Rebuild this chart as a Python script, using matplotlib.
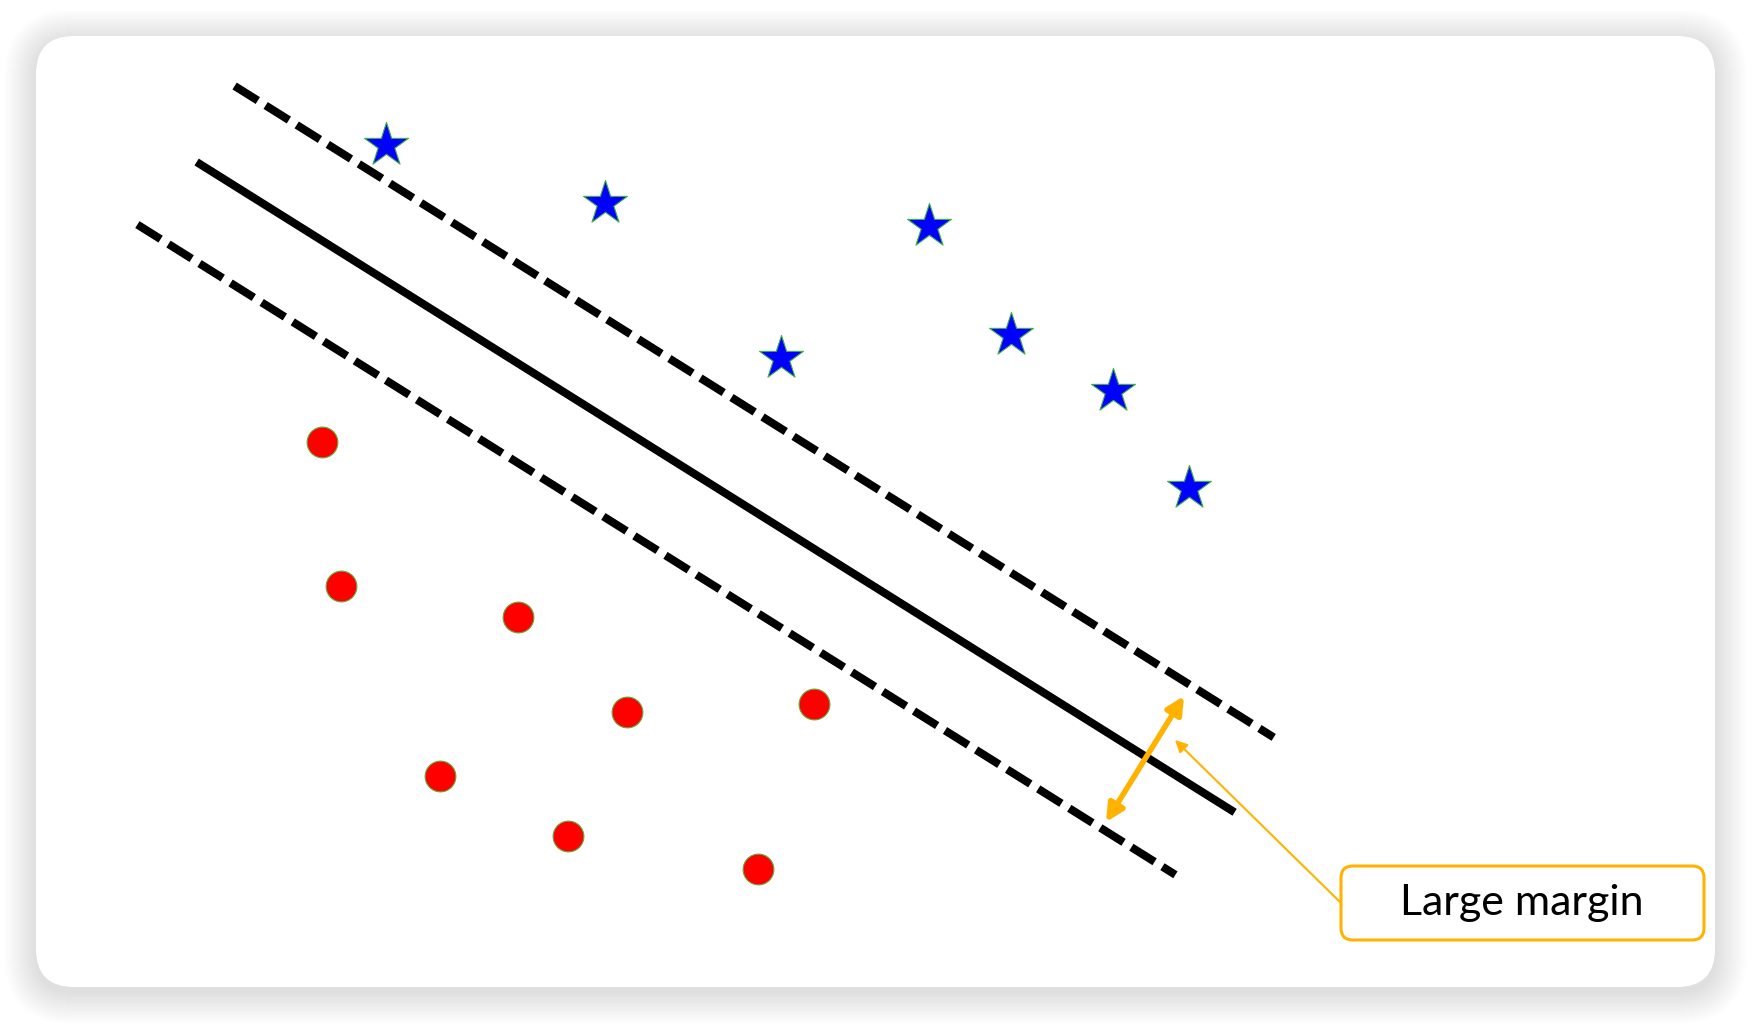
import matplotlib.pyplot as plt
from matplotlib.patches import FancyBboxPatch

# positions are in picture pixels (axes span the whole figure)
star_x = [385.5, 604.5, 928.5, 781.0, 1011.2, 1112.8, 1188.8]
star_y = [145.2, 203.4, 225.7, 357.5, 335.2, 391.1, 488.3]

dot_x = [322.0, 340.7, 517.7, 626.8, 813.5, 440.3, 567.7, 757.5]
dot_y = [441.5, 585.8, 617.0, 711.7, 704.1, 775.7, 836.2, 868.7]

# hyperplane and the two margin lines: (x0, y0, x1, y1)
upper_line = [234.6, 86.0, 1273.7, 737.4]
middle_line = [196.6, 162.0, 1234.6, 812.3]
lower_line = [137.4, 224.6, 1175.4, 874.8]

orange = '#FFB300'
label = "Large margin"

fig = plt.figure(figsize=(17.52, 10.24), dpi=100)
ax = fig.add_axes([0, 0, 1, 1])
ax.set_xlim(0, 1752)
ax.set_ylim(1024, 0)
ax.axis('off')

# soft shadow behind the card
for k in range(32, 0, -1):
    ax.add_patch(FancyBboxPatch((36 - k, 36 - k + 5), 1679 + 2 * k, 951 + 2 * k,
                                boxstyle="round,pad=0,rounding_size=%f" % (38 + k),
                                facecolor='black', edgecolor='none',
                                alpha=0.0048, zorder=0))
ax.add_patch(FancyBboxPatch((36, 36), 1679, 951,
                            boxstyle="round,pad=0,rounding_size=38",
                            facecolor='white', edgecolor='none', zorder=1))

# lines
ax.plot(middle_line[0::2], middle_line[1::2], color='black', lw=5.8,
        solid_capstyle='butt', zorder=2)
for ln in [upper_line, lower_line]:
    ax.plot(ln[0::2], ln[1::2], color='black', lw=5.8, dashes=(3.4, 1.15),
            dash_capstyle='butt', zorder=2)

# points
ax.scatter(star_x, star_y, marker='*', s=1100, color='#0000FF',
           edgecolors='#3CB043', linewidths=0.8, zorder=3)
ax.scatter(dot_x, dot_y, marker='o', s=490, color='#FF0000',
           edgecolors='#5BAE3A', linewidths=0.8, zorder=3)

# margin arrow
ax.annotate('', xy=(1106, 822), xytext=(1184, 696),
            arrowprops=dict(arrowstyle='<|-|>', color=orange, lw=4,
                            mutation_scale=26, shrinkA=0, shrinkB=0), zorder=4)

# callout
ax.annotate('', xy=(1175, 740), xytext=(1341, 903),
            arrowprops=dict(arrowstyle='-|>', color=orange, lw=1.5,
                            mutation_scale=18, shrinkA=0, shrinkB=0), zorder=4)
ax.add_patch(FancyBboxPatch((1341, 866), 363, 74,
                            boxstyle="round,pad=0,rounding_size=12",
                            facecolor='white', edgecolor=orange, lw=2.2, zorder=4))
ax.text(1522, 903, label, fontsize=31, family=['Lato', 'DejaVu Sans'],
        ha='center', va='center', color='black', zorder=5)

fig.savefig('out.png', dpi=100, facecolor='white')
